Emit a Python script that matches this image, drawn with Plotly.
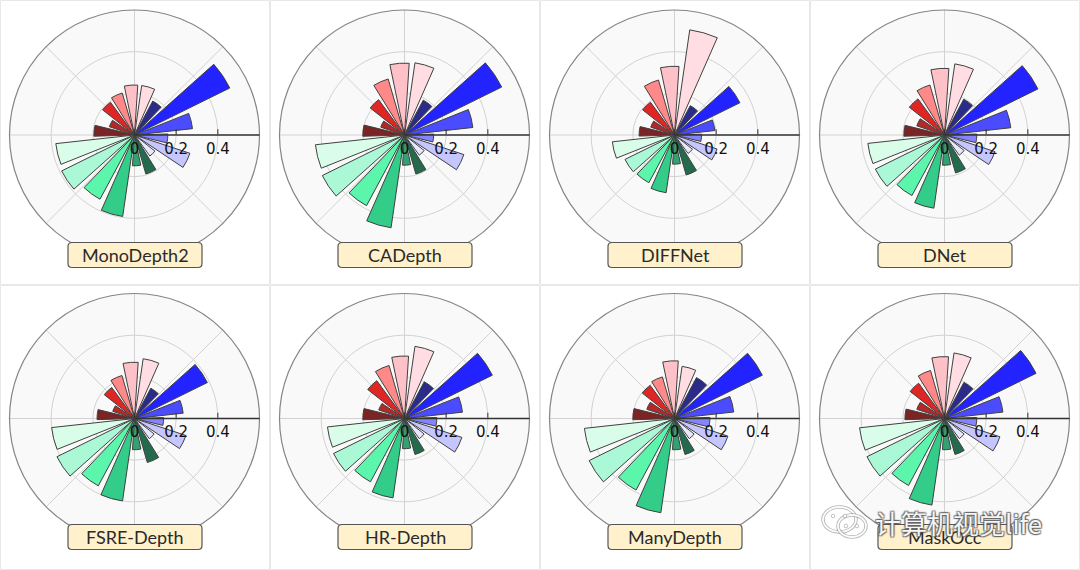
import plotly.graph_objects as go

# ---------------- data ----------------
methods = ["MonoDepth2", "CADepth", "DIFFNet", "DNet",
           "FSRE-Depth", "HR-Depth", "ManyDepth", "MaskOcc"]

theta_deg = [14, 34, 54, 74, 94, 114, 134, 154, 174,
             194, 214, 234, 254, 274, 294, 314, 334, 354]

bar_colors = ["#4b4bff", "#2323ff", "#2b2b8a", "#ffdde2", "#ffc1c8", "#ff8888",
              "#e02525", "#b32828", "#7a2424", "#d9fde9", "#aaf8d6", "#5cf5ac",
              "#33cc88", "#33a272", "#236b4c", "#e7e7ff", "#c6c6ff", "#8484ff"]

monodepth2 = [0.28, 0.51, 0.185, 0.24, 0.24, 0.21, 0.195, 0.127, 0.195,
              0.38, 0.39, 0.35, 0.395, 0.148, 0.195, 0.125, 0.28, 0.16]
cadepth = [0.33, 0.52, 0.19, 0.35, 0.345, 0.28, 0.21, 0.12, 0.20,
           0.43, 0.44, 0.385, 0.45, 0.145, 0.195, 0.12, 0.30, 0.14]
diffnet = [0.195, 0.35, 0.16, 0.51, 0.33, 0.275, 0.195, 0.12, 0.17,
           0.30, 0.265, 0.26, 0.28, 0.14, 0.20, 0.11, 0.215, 0.13]
dnet = [0.32, 0.50, 0.195, 0.345, 0.32, 0.25, 0.215, 0.14, 0.195,
        0.37, 0.37, 0.33, 0.355, 0.145, 0.19, 0.12, 0.255, 0.155]
fsre_depth = [0.235, 0.39, 0.165, 0.29, 0.27, 0.215, 0.185, 0.11, 0.18,
              0.40, 0.415, 0.367, 0.40, 0.15, 0.22, 0.12, 0.26, 0.14]
hr_depth = [0.28, 0.47, 0.20, 0.35, 0.30, 0.265, 0.225, 0.13, 0.20,
            0.372, 0.38, 0.345, 0.385, 0.145, 0.18, 0.12, 0.29, 0.155]
manydepth = [0.286, 0.47, 0.223, 0.253, 0.277, 0.208, 0.197, 0.14, 0.20,
             0.435, 0.457, 0.39, 0.457, 0.15, 0.18, 0.12, 0.27, 0.17]
maskocc = [0.282, 0.49, 0.197, 0.318, 0.297, 0.24, 0.21, 0.14, 0.19,
           0.41, 0.415, 0.365, 0.42, 0.15, 0.18, 0.12, 0.28, 0.155]

all_values = [monodepth2, cadepth, diffnet, dnet, fsre_depth, hr_depth, manydepth, maskocc]

radial_ticks = [0, 0.2, 0.4]
radial_ticktext = ["0", "0.2", "0.4"]

# ---------------- layout helpers ----------------
W, H = 1080, 570
CELL_W, CELL_H = 270, 285
R = 125


def px(x):
    return x / W


def py(y):
    return 1 - y / H


def rounded_rect(x0, y0, x1, y1, rad=4):
    rx, ry = rad / W, rad / H
    X0, X1 = px(x0), px(x1)
    Yt, Yb = py(y0), py(y1)
    return (f"M {X0+rx},{Yt} L {X1-rx},{Yt} Q {X1},{Yt} {X1},{Yt-ry} "
            f"L {X1},{Yb+ry} Q {X1},{Yb} {X1-rx},{Yb} L {X0+rx},{Yb} "
            f"Q {X0},{Yb} {X0},{Yb+ry} L {X0},{Yt-ry} Q {X0},{Yt} {X0+rx},{Yt} Z")


fig = go.Figure()
layout_polars = {}
shapes = []
annotations = []

# cell borders
for c in range(4):
    for rr in range(2):
        shapes.append(dict(type="rect", xref="paper", yref="paper",
                           x0=px(CELL_W * c + 0.5), x1=px(CELL_W * (c + 1) - 0.5),
                           y0=py(CELL_H * rr + 0.5), y1=py(CELL_H * (rr + 1) - 0.5),
                           line=dict(color="#e8e8e8", width=1), layer="below"))

for k, (name, vals) in enumerate(zip(methods, all_values)):
    row, col = k // 4, k % 4
    cx = CELL_W * col + 134.5
    cy = 135 + 283.5 * row
    key = "polar" if k == 0 else f"polar{k+1}"
    fig.add_trace(go.Barpolar(
        r=vals, theta=theta_deg, width=15.5,
        marker=dict(color=bar_colors, line=dict(color="#404040", width=1)),
        subplot=key, showlegend=False, name=name))
    layout_polars[key] = dict(
        domain=dict(x=[px(cx - R), px(cx + R)], y=[py(cy + R), py(cy - R)]),
        bgcolor="#f9f9f9",
        radialaxis=dict(range=[0, 0.6], tickvals=radial_ticks, ticktext=radial_ticktext,
                        angle=0, side="clockwise", tickangle=0,
                        showline=True, linecolor="#333333", linewidth=1.5,
                        ticks="inside", ticklen=5, tickcolor="#333333",
                        gridcolor="#d2d2d2", gridwidth=1,
                        tickfont=dict(family="DejaVu Sans", size=15, color="#111111"),
                        layer="above traces"),
        angularaxis=dict(direction="counterclockwise", rotation=0,
                         tickmode="linear", tick0=0, dtick=45,
                         showticklabels=False, ticks="",
                         gridcolor="#d2d2d2", gridwidth=1,
                         showline=True, linecolor="#858585", linewidth=1.2))
    # title box
    bx0, bx1 = CELL_W * col + 68, CELL_W * col + 202
    by0 = 242.5 + 282 * row
    by1 = by0 + 25
    shapes.append(dict(type="path", xref="paper", yref="paper",
                       path=rounded_rect(bx0, by0, bx1, by1, 4),
                       fillcolor="#fff1cc", line=dict(color="#555555", width=1.2),
                       layer="above"))
    annotations.append(dict(text=name, xref="paper", yref="paper",
                            x=px((bx0 + bx1) / 2), y=py((by0 + by1) / 2),
                            xanchor="center", yanchor="middle", showarrow=False,
                            font=dict(family="Lato", size=18, color="#2a2a2a")))

# watermark (WeChat-like icon + text)
icon_outline = "rgba(120,120,120,0.55)"
for (ex0, ey0, ex1, ey1) in [(823, 507, 856, 532), (838, 515, 866, 537)]:
    shapes.append(dict(type="circle", xref="paper", yref="paper",
                       x0=px(ex0), x1=px(ex1), y0=py(ey1), y1=py(ey0),
                       line=dict(color=icon_outline, width=3.5), layer="above"))
    shapes.append(dict(type="circle", xref="paper", yref="paper",
                       x0=px(ex0), x1=px(ex1), y0=py(ey1), y1=py(ey0),
                       line=dict(color="rgba(255,255,255,0.95)", width=1.8), layer="above"))
for (ex, ey) in [(833, 516), (845, 516), (846, 526), (857, 526)]:
    shapes.append(dict(type="circle", xref="paper", yref="paper",
                       x0=px(ex - 1.8), x1=px(ex + 1.8), y0=py(ey + 1.8), y1=py(ey - 1.8),
                       fillcolor="white", line=dict(color=icon_outline, width=0.8),
                       layer="above"))
annotations.append(dict(text="计算机视觉life", xref="paper", yref="paper",
                        x=px(873), y=py(522), xanchor="left", yanchor="middle",
                        showarrow=False,
                        font=dict(family="Noto Sans CJK SC", size=26,
                                  color="rgba(255,255,255,0.95)",
                                  shadow="1px 1px 1px rgba(90,90,90,0.8), -1px -1px 1px rgba(90,90,90,0.8), "
                                         "1px -1px 1px rgba(90,90,90,0.8), -1px 1px 1px rgba(90,90,90,0.8)")))

fig.update_layout(width=W, height=H, margin=dict(l=0, r=0, t=0, b=0),
                  paper_bgcolor="white", plot_bgcolor="white",
                  showlegend=False, shapes=shapes, annotations=annotations,
                  **layout_polars)

fig.write_html("out.html", config={"displayModeBar": False},
               post_script="document.body.style.margin='0';document.body.style.overflow='hidden';")
